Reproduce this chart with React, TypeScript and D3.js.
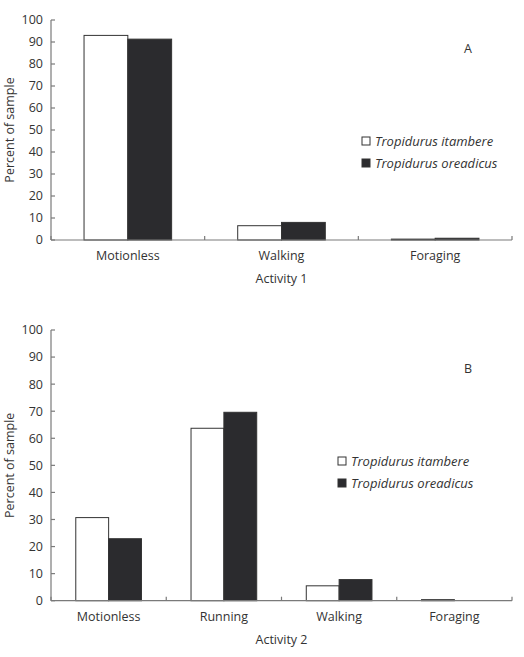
import React from 'react'
import * as d3 from 'd3'

const seriesNames = ['Tropidurus itambere', 'Tropidurus oreadicus']
const yTicks = [0, 10, 20, 30, 40, 50, 60, 70, 80, 90, 100]

// panel A
const activity1 = ['Motionless', 'Walking', 'Foraging']
const itambere1 = [93, 6.5, 0.4]
const oreadicus1 = [91.3, 8, 0.8]

// panel B
const activity2 = ['Motionless', 'Running', 'Walking', 'Foraging']
const itambere2 = [30.7, 63.7, 5.5, 0.4]
const oreadicus2 = [22.9, 69.6, 7.8, 0]

const FONT = '"Open Sans", "Noto Sans", sans-serif'
const TEXT = '#333'
const AXIS = '#7a7a7a'

interface PanelProps {
  top: number
  bottom: number
  cats: string[]
  a: number[]
  b: number[]
  letter: string
  xTitle: string
  legendX: number
  legendY: number
  letterY: number
}

const Panel: React.FC<PanelProps> = ({ top, bottom, cats, a, b, letter, xTitle, legendX, legendY, letterY }) => {
  const left = 51
  const right = 512
  const y = d3.scaleLinear().domain([0, 100]).range([bottom, top])
  const x = d3.scaleBand<string>().domain(cats).range([left, right]).paddingInner(0.43).paddingOuter(0.215)
  const xs = d3.scaleBand<number>().domain([0, 1]).range([0, x.bandwidth()])
  const step = x.step()
  const bounds = d3.range(cats.length + 1).map(i => left + i * step)
  const colors = ['#ffffff', '#2b2b2e']

  return (
    <g fontFamily={FONT}>
      {cats.map((c, i) => (
        <g key={c}>
          {[a[i], b[i]].map((v, j) => (
            <rect
              key={j}
              x={(x(c) ?? 0) + (xs(j) ?? 0)}
              y={y(v)}
              width={xs.bandwidth()}
              height={Math.max(0, bottom - y(v))}
              fill={colors[j]}
              stroke="#333"
              strokeWidth={1}
            />
          ))}
          <text x={(x(c) ?? 0) + x.bandwidth() / 2} y={bottom + 20} textAnchor="middle" fontSize={12.5} fill={TEXT}>{c}</text>
        </g>
      ))}
      {/* axes */}
      <line x1={left} x2={left} y1={top} y2={bottom} stroke={AXIS} strokeWidth={1.2} />
      <line x1={left} x2={right} y1={bottom} y2={bottom} stroke={AXIS} strokeWidth={1.2} />
      {yTicks.map(t => (
        <g key={t}>
          <line x1={left} x2={left + 4} y1={y(t)} y2={y(t)} stroke={AXIS} strokeWidth={1.2} />
          <text x={left - 8} y={y(t)} dy="0.35em" textAnchor="end" fontSize={12.5} fill={TEXT}>{t}</text>
        </g>
      ))}
      {bounds.map((bx, i) => (
        <line key={i} x1={bx} x2={bx} y1={bottom} y2={bottom - 4} stroke={AXIS} strokeWidth={1.2} />
      ))}
      <text transform={`translate(14,${(top + bottom) / 2}) rotate(-90)`} textAnchor="middle" fontSize={12.5} fill={TEXT}>Percent of sample</text>
      <text x={(left + right) / 2} y={bottom + 43} textAnchor="middle" fontSize={12.5} fill={TEXT}>{xTitle}</text>
      <text x={468} y={letterY} dy="0.35em" textAnchor="middle" fontSize={12.5} fill={TEXT}>{letter}</text>
      {seriesNames.map((s, j) => (
        <g key={s} transform={`translate(${legendX},${legendY + j * 22})`}>
          <rect x={0} y={-4} width={8} height={8} fill={colors[j]} stroke="#333" strokeWidth={1} />
          <text x={13} y={0} dy="0.35em" fontSize={13} fontStyle="italic" fill={TEXT}>{s}</text>
        </g>
      ))}
    </g>
  )
}

export default function App() {
  return (
    <svg width={524} height={657} style={{ position: 'absolute', left: 0, top: 0, background: '#fff' }}>
      <Panel top={20} bottom={240} cats={activity1} a={itambere1} b={oreadicus1} letter="A" xTitle="Activity 1" legendX={362} legendY={141} letterY={49} />
      <Panel top={330} bottom={600.7} cats={activity2} a={itambere2} b={oreadicus2} letter="B" xTitle="Activity 2" legendX={338} legendY={461} letterY={369} />
    </svg>
  )
}
